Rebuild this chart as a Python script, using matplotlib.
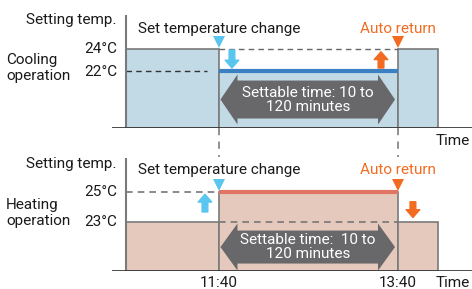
import matplotlib
matplotlib.use("Agg")
import matplotlib.pyplot as plt
from matplotlib.patches import Polygon
import matplotlib.transforms as mtransforms

# ---------------- data ----------------
time_labels = ["11:40", "13:40"]
t_change = 700          # 11:40 in minutes since midnight
t_return = 820          # 13:40
t_axis = 638            # start of the drawn timeline
t_end = 847             # end of the drawn blocks

cool_default = 24
cool_set = 22
heat_default = 23
heat_set = 25

panel_names = ["Cooling\noperation", "Heating\noperation"]
arrow_text = ["Settable time: 10 to\n120 minutes", "Settable time:  10 to\n120 minutes"]

# ---------------- style ----------------
W, H = 472, 289
FONT = ["Roboto", "DejaVu Sans"]
plt.rcParams['font.family'] = FONT
FS = 11

cool_fill = "#c2d9e6"
heat_fill = "#e5c9bc"
blue_line = "#3a80c3"
red_line = "#e07565"
orange = "#f26b21"
cyan = "#5ac5ef"
gray_arrow = "#68686b"
edge_gray = "#7a7a7a"

fig = plt.figure(figsize=(W / 100, H / 100), dpi=100)


def add_axes_px(x0, x1, ytop, ybot):
    return fig.add_axes([x0 / W, 1 - ybot / H, (x1 - x0) / W, (ybot - ytop) / H])


def draw_panel(ax, default, setv, fill, topline_color, ylim):
    ax.set_xlim(628.3, 869.6)
    ax.set_ylim(*ylim)
    ax.axis("off")
    base = ylim[0]
    lefts = [t_axis, t_change, t_return]
    widths = [t_change - t_axis, t_return - t_change, t_end - t_return]
    heights = [default - base, setv - base, default - base]
    ax.bar(lefts, heights, width=widths, bottom=base, align="edge",
           color=fill, edgecolor=edge_gray, linewidth=1.2, zorder=1)
    ax.hlines(setv, t_change, t_return, color=topline_color, lw=3, zorder=3)
    ax.vlines(t_axis, base, ylim[1], color=edge_gray, lw=1.5, zorder=4)
    ax.axhline(base, color="#3a3a3a", lw=2, zorder=5)
    return ax


# ---------- top panel (cooling) ----------
ax1 = add_axes_px(112, 472, 15, 128)
draw_panel(ax1, cool_default, cool_set, cool_fill, blue_line, (16.82, 27.09))
ax1.hlines(cool_default, t_change, t_return, colors="#666666", lw=1,
           linestyles=(0, (4, 3)), zorder=2)
ax1.hlines(cool_set, t_axis, 692, colors="#333333", lw=1,
           linestyles=(0, (4, 3)), zorder=2)
for t in (t_change, t_return):
    ax1.vlines(t, 16.82, 14.2, colors="#888888", lw=1.3,
               linestyles=(0, (4, 3.5)), clip_on=False, zorder=1)

# ---------- bottom panel (heating) ----------
ax2 = add_axes_px(112, 472, 158, 271)
draw_panel(ax2, heat_default, heat_set, heat_fill, red_line, (19.73, 27.27))
ax2.hlines(heat_set, t_axis, t_change, colors="#777777", lw=1.2,
           linestyles=(0, (4, 3)), zorder=2)
ax2.hlines(heat_default, t_change, t_return, colors="#777777", lw=1.2,
           linestyles=(0, (4, 3)), zorder=2)


def grey_double_arrow(ax, yc, body, head, text):
    trans = mtransforms.blended_transform_factory(ax.transData, ax.transAxes)
    x0 = t_change + 1.0
    x1 = t_return - 2.0
    hl = 11.4
    pts = [(x0, yc), (x0 + hl, yc + head), (x0 + hl, yc + body),
           (x1 - hl, yc + body), (x1 - hl, yc + head), (x1, yc),
           (x1 - hl, yc - head), (x1 - hl, yc - body), (x0 + hl, yc - body),
           (x0 + hl, yc - head)]
    ax.add_patch(Polygon(pts, closed=True, transform=trans, facecolor=gray_arrow,
                         edgecolor="none", zorder=6))
    ax.text((x0 + x1) / 2, yc, text, transform=trans, ha="center", va="center",
            color="white", fontsize=FS, linespacing=1.0, zorder=7)


grey_double_arrow(ax1, 0.252, 0.168, 0.221, arrow_text[0])
grey_double_arrow(ax2, 0.212, 0.146, 0.208, arrow_text[1])


def small_arrow(ax, x, y0, y1, color):
    ax.annotate("", xy=(x, y1), xytext=(x, y0),
                arrowprops=dict(arrowstyle="simple,head_length=0.75,head_width=1.3,tail_width=0.55",
                                color=color, mutation_scale=7.5, shrinkA=0, shrinkB=0),
                zorder=8)


small_arrow(ax1, 708.7, 23.9, 22.27, cyan)
small_arrow(ax1, 808.6, 22.27, 23.75, orange)
small_arrow(ax2, 690.6, 23.67, 24.85, cyan)
small_arrow(ax2, 830.0, 24.35, 23.3, orange)

for ax, yv in ((ax1, 24.64), (ax2, 25.47)):
    ax.plot([t_change], [yv], marker="v", ms=8.5, color=cyan, clip_on=False, zorder=9, mew=0)
    ax.plot([t_return], [yv], marker="v", ms=8.5, color=orange, clip_on=False, zorder=9, mew=0)


# ---------------- texts ----------------
def ftext(x, y, s, **kw):
    kw.setdefault("fontsize", FS)
    kw.setdefault("color", "#1a1a1a")
    fig.text(x / W, 1 - y / H, s, **kw)


for off, name in [(0, panel_names[0]), (145, panel_names[1])]:
    ftext(117, 20 + off - (1 if off else 0), "Setting temp.", ha="right", va="center")
    ftext(138, 29 + off - (4 if off else 0), "Set temperature change", ha="left", va="center")
    ftext(398, 29 + off - (4 if off else 0), "Auto return", ha="center", va="center", color=orange)
    ftext(6, 68 + off, name, ha="left", va="center", linespacing=1.15)

ftext(117, 49, f"{cool_default}°C", ha="right", va="center")
ftext(117, 72, f"{cool_set}°C", ha="right", va="center")
ftext(117, 192, f"{heat_set}°C", ha="right", va="center")
ftext(117, 222, f"{heat_default}°C", ha="right", va="center")

ftext(470, 141, "Time", ha="right", va="center")
ftext(470, 283, "Time", ha="right", va="center")
ftext(219, 283, time_labels[0], ha="center", va="center")
ftext(398, 283, time_labels[1], ha="center", va="center")

fig.savefig("out.png", dpi=100)
